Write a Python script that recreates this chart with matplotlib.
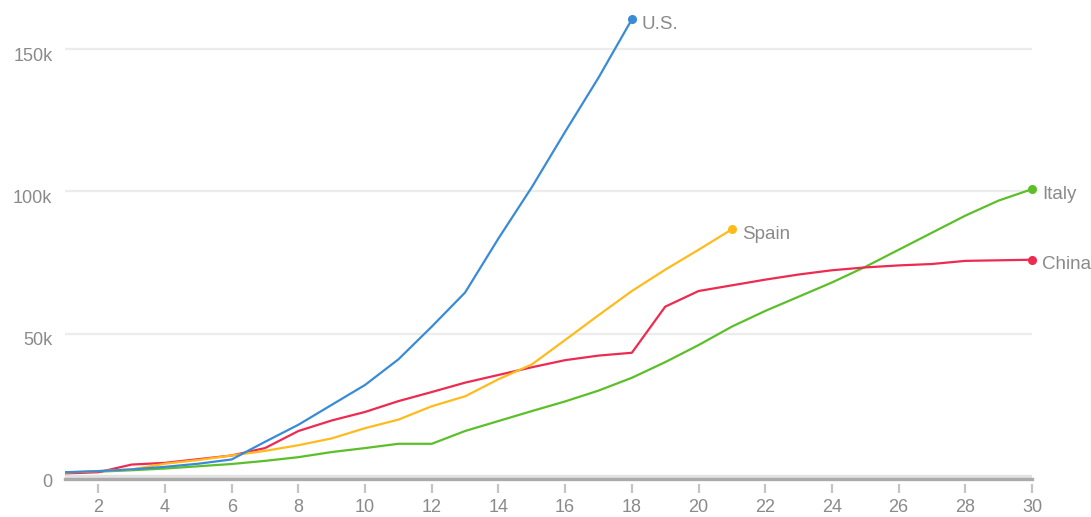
import matplotlib
matplotlib.use("Agg")
import matplotlib.pyplot as plt
import matplotlib.transforms as mtransforms

plt.rcParams["font.family"] = ["Liberation Sans", "DejaVu Sans"]

# Confirmed cases, by day number since each outbreak passed ~1,000 cases
us_cases = [1300, 1700, 2300, 3200, 4300, 5800, 12000, 18000, 25000, 32000,
            41000, 52500, 64500, 83500, 101500, 121000, 140000, 160500]
spain_cases = [1200, 1700, 2300, 4300, 5600, 7200, 8800, 10800, 13200, 16800,
               19800, 24500, 28000, 34000, 39200, 47800, 56500, 65000, 72500,
               79500, 86700]
italy_cases = [1200, 1500, 2000, 2600, 3400, 4200, 5300, 6600, 8400, 9800,
               11300, 11300, 15800, 19300, 22800, 26200, 30000, 34500, 40000,
               46000, 52500, 58000, 63000, 68000, 73500, 79500, 85500, 91500,
               96800, 100800]
china_cases = [900, 1300, 4000, 4600, 5900, 7200, 9800, 15800, 19500, 22500,
               26300, 29500, 32800, 35500, 38200, 40700, 42300, 43300, 59500,
               65000, 67000, 69000, 70800, 72300, 73300, 74000, 74500, 75600,
               75800, 76000]

series = [
    ("Italy", italy_cases, "#5cbf2a"),
    ("China", china_cases, "#ee2a50"),
    ("Spain", spain_cases, "#ffbb1c"),
    ("U.S.", us_cases, "#3a8bd6"),
]

x_ticks = list(range(2, 31, 2))
y_ticks = [0, 50000, 100000, 150000]
y_tick_labels = ["0", "50k", "100k", "150k"]

fig = plt.figure(figsize=(10.91, 5.17), dpi=100)
ax = fig.add_axes([65 / 1091, (517 - 478.5) / 517, (1032 - 65) / 1091, 478.5 / 517])

for name, values, color in series:
    days = list(range(1, len(values) + 1))
    ax.plot(days, values, color=color, linewidth=1.6, solid_joinstyle="round", zorder=3)
    ax.plot(days[-1], values[-1], "o", color=color, markersize=5.5, zorder=4, clip_on=False)
    ax.annotate(name, (days[-1], values[-1]), xytext=(10, -5), textcoords="offset pixels",
                ha="left", va="center", fontsize=13.5, color="#8a8a8a", annotation_clip=False)

ax.set_xlim(1, 30)
ax.set_ylim(-900, 167300)

# Horizontal grid only
for y in y_ticks[1:]:
    ax.axhline(y, color="#ececec", linewidth=1.6, zorder=1)
ax.axhline(0, color="#e2e2e2", linewidth=2.4, zorder=1)

for side in ["top", "right", "left"]:
    ax.spines[side].set_visible(False)
ax.spines["bottom"].set_color("#ababab")
ax.spines["bottom"].set_linewidth(2.4)

ax.set_xticks(x_ticks)
ax.set_xticklabels([str(t) for t in x_ticks])
ax.set_yticks(y_ticks)
ax.set_yticklabels(y_tick_labels)
ax.tick_params(axis="x", length=0, pad=15, labelsize=13, labelcolor="#8a8a8a")
ax.tick_params(axis="y", length=0, pad=9, labelsize=13, labelcolor="#8a8a8a")

# Nudge y labels just below their gridlines
shift = mtransforms.ScaledTranslation(0, -5 / 100, fig.dpi_scale_trans)
for lab in ax.get_yticklabels():
    lab.set_transform(lab.get_transform() + shift)

# Short tick marks detached from the axis line
trans = mtransforms.blended_transform_factory(ax.transData, ax.transAxes)
for t in x_ticks:
    ax.plot([t, t], [-5.5 / 478.5, -14.5 / 478.5], transform=trans, color="#c4c4c4",
            linewidth=1.6, clip_on=False, solid_capstyle="butt")

fig.savefig("out.png", dpi=100)
